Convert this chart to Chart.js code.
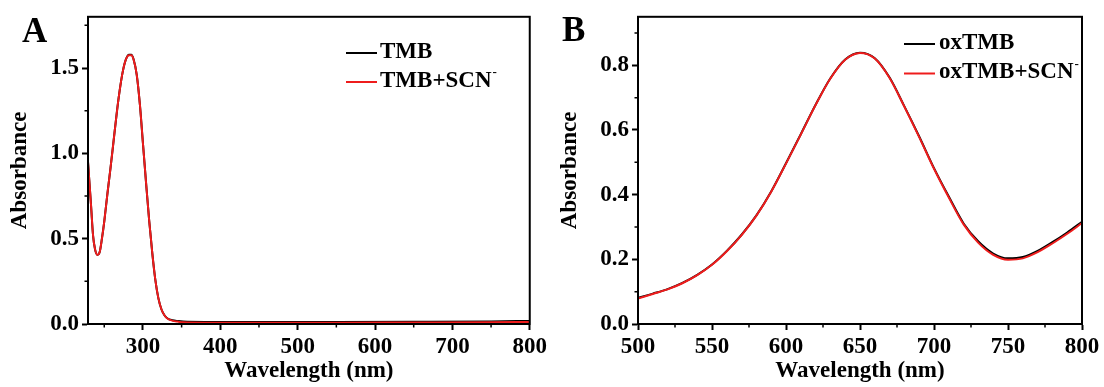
<!DOCTYPE html>
<html>
<head>
<meta charset="utf-8">
<title>TMB absorbance spectra</title>
<script src="https://cdn.jsdelivr.net/npm/chart.js@4/dist/chart.umd.min.js"></script>
<style>
  body { margin: 0; background: #fff; }
  .panel { position: absolute; top: 0; height: 387px; }
  .letter { position: absolute; font: bold 35px "Liberation Serif", "Times New Roman", serif; line-height: 35px; color: #000; }
</style>
</head>
<body>
<div class="panel" style="left:0;width:550px"><canvas id="chartA"></canvas></div>
<div class="panel" style="left:550px;width:554px"><canvas id="chartB"></canvas></div>
<div class="letter" style="left:22px;top:13px">A</div>
<div class="letter" style="left:562px;top:12px">B</div>
<script>
// panel A: TMB, 229-800 nm
var wavelengthA = [229, 231, 233, 235.5, 238, 241, 244, 247, 250, 254, 258, 262, 266, 270, 274, 278, 282, 285, 288, 292,
    296, 300, 304, 308, 312, 316, 320, 324, 328, 332, 338, 345, 352, 380, 450, 550, 650, 750, 800];
var tmbA = [0.95, 0.82, 0.69, 0.52, 0.44, 0.405, 0.42, 0.50, 0.60, 0.76, 0.91, 1.07, 1.23, 1.37, 1.48, 1.55, 1.578, 1.578, 1.55, 1.46,
    1.29, 1.06, 0.83, 0.61, 0.42, 0.26, 0.15, 0.085, 0.05, 0.032, 0.022, 0.017, 0.014, 0.012, 0.012, 0.012, 0.013, 0.015, 0.018];
var tmbScnA = [0.95, 0.82, 0.69, 0.52, 0.44, 0.405, 0.42, 0.50, 0.60, 0.76, 0.91, 1.07, 1.23, 1.37, 1.48, 1.55, 1.575, 1.575, 1.548, 1.46,
    1.29, 1.06, 0.83, 0.61, 0.42, 0.26, 0.15, 0.085, 0.05, 0.031, 0.020, 0.014, 0.010, 0.008, 0.008, 0.008, 0.009, 0.010, 0.012];
var xTicksA = [300, 400, 500, 600, 700, 800];
var xMinorA = [250, 350, 450, 550, 650, 750];
var yTicksA = [0.0, 0.5, 1.0, 1.5];
var yMinorA = [0.25, 0.75, 1.25, 1.75];

// panel B: oxTMB, 500-800 nm
var wavelengthB = [500, 510, 520, 530, 540, 550, 560, 570, 580, 590, 600, 610, 620, 630, 640, 650, 660, 670, 680, 690,
    700, 710, 720, 730, 740, 750, 760, 770, 780, 790, 800];
var oxTmbB = [0.081, 0.094, 0.108, 0.127, 0.152, 0.184, 0.226, 0.276, 0.336, 0.410, 0.497, 0.587, 0.678, 0.760, 0.818, 0.839, 0.822, 0.762, 0.673, 0.580,
    0.482, 0.394, 0.311, 0.255, 0.218, 0.203, 0.207, 0.226, 0.253, 0.283, 0.316];
var oxTmbScnB = [0.079, 0.093, 0.107, 0.126, 0.151, 0.183, 0.225, 0.275, 0.335, 0.409, 0.496, 0.586, 0.677, 0.759, 0.817, 0.838, 0.821, 0.761, 0.672, 0.578,
    0.480, 0.391, 0.308, 0.251, 0.214, 0.199, 0.203, 0.222, 0.249, 0.279, 0.312];
var xTicksB = [500, 550, 600, 650, 700, 750, 800];
var xMinorB = [525, 575, 625, 675, 725, 775];
var yTicksB = [0.0, 0.2, 0.4, 0.6, 0.8];
var yMinorB = [0.1, 0.3, 0.5, 0.7, 0.9];

var serif = '"Liberation Serif", "Times New Roman", serif';

function toPoints(xs, ys) {
    return xs.map(function(x, i) { return {x: x, y: ys[i]}; });
}

// box frame, minor ticks and the legend
var framePlugin = {
    id: 'frame',
    afterDraw: function(chart, args, opts) {
        var ctx = chart.ctx, area = chart.chartArea;
        var sx = chart.scales.x, sy = chart.scales.y;
        ctx.save();
        ctx.strokeStyle = '#000';
        ctx.lineWidth = 2;
        ctx.strokeRect(area.left, area.top, area.right - area.left, area.bottom - area.top);

        ctx.lineWidth = 1.5;
        ctx.beginPath();
        opts.minorX.forEach(function(v) {
            var px = sx.getPixelForValue(v);
            ctx.moveTo(px, area.bottom);
            ctx.lineTo(px, area.bottom + 3.5);
        });
        opts.minorY.forEach(function(v) {
            var py = sy.getPixelForValue(v);
            ctx.moveTo(area.left, py);
            ctx.lineTo(area.left - 3.5, py);
        });
        ctx.stroke();

        var lg = opts.legend;
        ctx.textBaseline = 'middle';
        ctx.textAlign = 'left';
        chart.data.datasets.forEach(function(ds, i) {
            var y = lg.ys[i];
            ctx.strokeStyle = ds.borderColor;
            ctx.lineWidth = 2;
            ctx.beginPath();
            ctx.moveTo(lg.x1, y);
            ctx.lineTo(lg.x2, y);
            ctx.stroke();
            var text = ds.label, sup = '';
            if (text.slice(-1) === '\u207B') { sup = '-'; text = text.slice(0, -1); }
            ctx.fillStyle = '#000';
            ctx.font = 'bold 23px ' + serif;
            ctx.fillText(text, lg.textX, y - 1);
            if (sup) {
                var w = ctx.measureText(text).width;
                ctx.font = 'bold 13px ' + serif;
                ctx.fillText(sup, lg.textX + w + 1, y - 9);
            }
        });
        ctx.restore();
    }
};

function makeChart(id, xs, black, red, labels, xMin, xMax, yMax, xTicks, yTicks, minorX, minorY, padRight, legend) {
    var ctx = document.getElementById(id).getContext('2d');
    return new Chart(ctx, {
        type: 'line',
        data: {
            datasets: [{
                label: labels[0],
                borderColor: '#000000',
                borderWidth: 2,
                data: toPoints(xs, black),
                order: 2
            }, {
                label: labels[1],
                borderColor: '#ee1c1c',
                borderWidth: 2,
                data: toPoints(xs, red),
                order: 1
            }]
        },
        options: {
            responsive: true,
            maintainAspectRatio: false,
            animation: false,
            cubicInterpolationMode: 'monotone',
            elements: { point: { radius: 0 } },
            layout: { padding: { left: 0, top: 14, right: padRight, bottom: 0 } },
            plugins: {
                legend: { display: false },
                tooltip: { enabled: false },
                frame: { minorX: minorX, minorY: minorY, legend: legend }
            },
            scales: {
                x: {
                    type: 'linear',
                    min: xMin,
                    max: xMax,
                    afterBuildTicks: function(scale) { scale.ticks = xTicks.map(function(v) { return {value: v}; }); },
                    afterFit: function(scale) { scale.height = 63; },
                    border: { color: '#000', width: 2 },
                    grid: { drawOnChartArea: false, tickLength: 6, tickWidth: 2, tickColor: '#000' },
                    ticks: { color: '#000', padding: 3, maxRotation: 0, autoSkip: false,
                        font: { family: serif, size: 23, weight: 'bold' },
                        callback: function(v) { return String(v); } },
                    title: { display: true, text: 'Wavelength (nm)', color: '#000', padding: { bottom: 2 },
                        font: { family: serif, size: 23, weight: 'bold' } }
                },
                y: {
                    min: 0,
                    max: yMax,
                    afterBuildTicks: function(scale) { scale.ticks = yTicks.map(function(v) { return {value: v}; }); },
                    afterFit: function(scale) { scale.width = 88; },
                    border: { color: '#000', width: 2 },
                    grid: { drawOnChartArea: false, tickLength: 6, tickWidth: 2, tickColor: '#000' },
                    ticks: { color: '#000', padding: 3,
                        font: { family: serif, size: 23, weight: 'bold' },
                        callback: function(v) { return v.toFixed(1); } },
                    title: { display: true, text: 'Absorbance', color: '#000', padding: { top: 6 },
                        font: { family: serif, size: 23, weight: 'bold' } }
                }
            }
        },
        plugins: [framePlugin]
    });
}

document.addEventListener('DOMContentLoaded', function() {
    makeChart('chartA', wavelengthA, tmbA, tmbScnA, ['TMB', 'TMB+SCN\u207B'],
        229, 800, 1.8, xTicksA, yTicksA, xMinorA, yMinorA, 19,
        { x1: 346, x2: 377, textX: 380, ys: [53, 82] });
    makeChart('chartB', wavelengthB, oxTmbB, oxTmbScnB, ['oxTMB', 'oxTMB+SCN\u207B'],
        500, 800, 0.95, xTicksB, yTicksB, xMinorB, yMinorB, 22,
        { x1: 354, x2: 385, textX: 389, ys: [44, 73.5] });
});
</script>
</body>
</html>
